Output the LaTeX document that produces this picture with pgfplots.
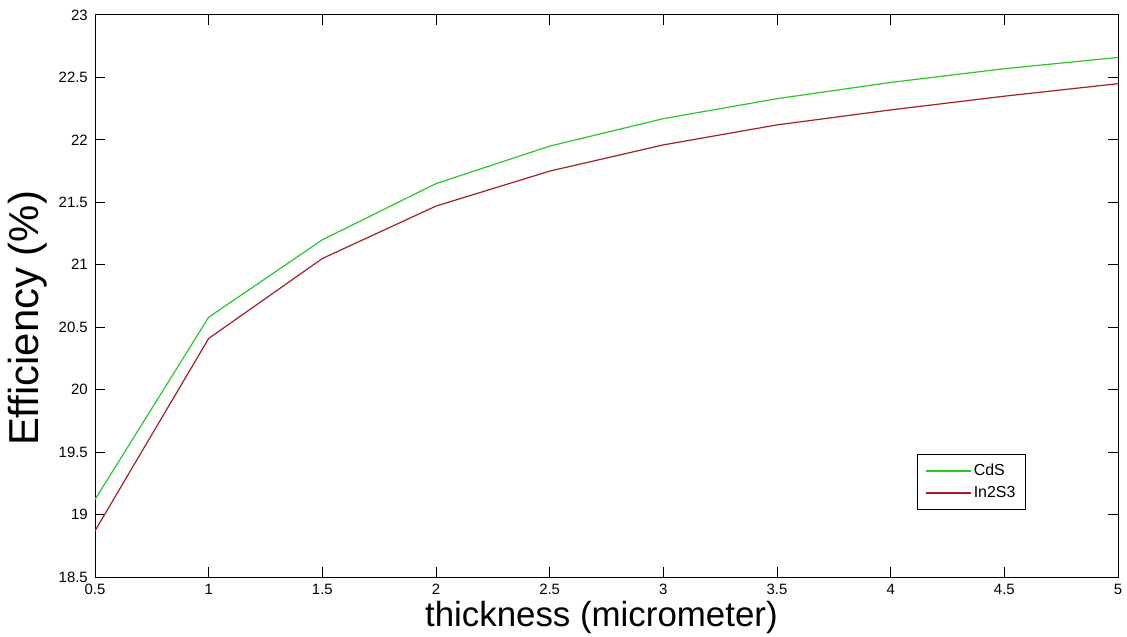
\documentclass[border=0pt]{standalone}
\usepackage{fontspec}
\setmainfont{Liberation Sans}
\usepackage{pgfplots}
\pgfplotsset{compat=1.18}
\definecolor{cdsgreen}{RGB}{40,200,40}
\definecolor{inred}{RGB}{165,30,40}
\begin{document}
\begin{tikzpicture}
\begin{axis}[
  scale only axis,
  width=1023bp, height=562bp,
  xmin=0.5, xmax=5, ymin=18.5, ymax=23,
  xtick={0.5,1,1.5,2,2.5,3,3.5,4,4.5,5},
  xticklabels={0.5,1,1.5,2,2.5,3,3.5,4,4.5,5},
  ytick={18.5,19,19.5,20,20.5,21,21.5,22,22.5,23},
  yticklabels={18.5,19,19.5,20,20.5,21,21.5,22,22.5,23},
  tick align=inside,
  major tick length=10bp,
  every tick/.style={black, line width=1bp},
  axis line style={line width=1bp},
  /pgf/number format/assume math mode=true,
  xticklabel style={font=\fontsize{15}{18}\selectfont, anchor=north, inner sep=0pt, yshift=-7bp},
  yticklabel style={font=\fontsize{15}{18}\selectfont, anchor=east, inner sep=0pt, xshift=-7bp},
  xlabel={thickness (micrometer)},
  xlabel style={font=\fontsize{35}{40}\selectfont, at={(axis description cs:0.495,-0.088)}, anchor=base, inner sep=0pt},
  ylabel={Efficiency (\%)},
  ylabel style={font=\fontsize{42}{46}\selectfont, at={(axis description cs:-0.0655,0.46)}, anchor=center, inner sep=0pt},
  legend style={at={(axis description cs:0.910,0.219)}, anchor=north east,
    font=\fontsize{16}{19}\selectfont, draw=black, line width=1bp,
    inner xsep=8bp, inner ysep=8bp, row sep=5bp,
    nodes={inner sep=2bp}},
  legend cell align=left,
  legend image code/.code={\draw[#1, line width=1.5bp] (0bp,0bp) -- (45bp,0bp);},
]
\addplot[color=cdsgreen, line width=1.2bp] coordinates {
(0.5,19.12) (1,20.58) (1.5,21.20) (2,21.65) (2.5,21.95) (3,22.17) (3.5,22.33) (4,22.46) (4.5,22.57) (5,22.66)};
\addlegendentry{CdS}
\addplot[color=inred, line width=1.2bp] coordinates {
(0.5,18.87) (1,20.41) (1.5,21.05) (2,21.47) (2.5,21.75) (3,21.96) (3.5,22.12) (4,22.24) (4.5,22.35) (5,22.45)};
\addlegendentry{In2S3}
\end{axis}
\pgfresetboundingbox
\path ([shift={(-95bp,-59bp)}]current axis.south west) rectangle ([shift={(9bp,15bp)}]current axis.north east);
\end{tikzpicture}
\end{document}
